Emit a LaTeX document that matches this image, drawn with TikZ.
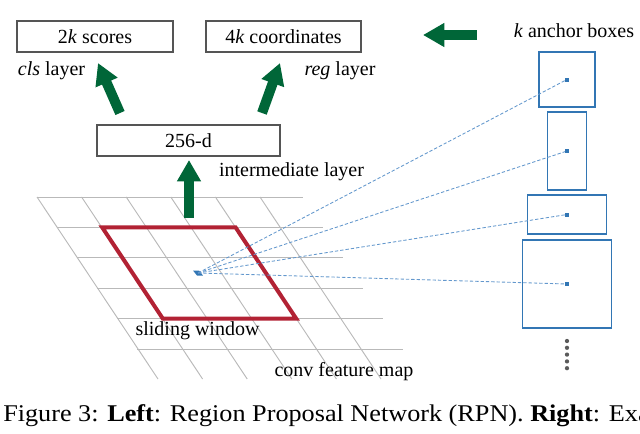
\documentclass[tikz,border=0pt]{standalone}
\usepackage{fontspec}
\setmainfont{Liberation Serif}
\newfontfamily\capfont[FakeStretch=1.092]{Liberation Serif}
\usetikzlibrary{arrows.meta}
\definecolor{boxgray}{RGB}{85,85,85}
\definecolor{gridgray}{RGB}{185,185,185}
\definecolor{winred}{RGB}{178,34,52}
\definecolor{arrgreen}{RGB}{0,102,56}
\definecolor{ancblue}{RGB}{50,118,180}
\definecolor{dashblue}{RGB}{100,152,205}
\definecolor{dotgray}{RGB}{90,90,90}
\begin{document}
\begin{tikzpicture}[x=0.75pt,y=-0.75pt,
    every node/.style={font=\fontsize{15}{18}\selectfont},
    layerbox/.style={draw=boxgray,line width=0.8pt,inner sep=0pt,minimum height=23.25pt},
    gridline/.style={gridgray,line width=0.7pt},
    bigarrow/.style={arrgreen,line width=7.5pt,-{Triangle[width=17pt,length=16pt]}},
    anchorbox/.style={draw=ancblue,line width=1.1pt,inner sep=0pt},
    ray/.style={dashblue,line width=0.65pt,dash pattern=on 2.5pt off 1.5pt}]
    \useasboundingbox (0,0) rectangle (640,433);
    \clip (0,0) rectangle (640,433);
    \foreach \k in {0,...,5}
        \draw [gridline] (37+20*\k,197+30.4*\k) -- (303+20*\k,197+30.4*\k);
    \foreach \j in {0,...,5}
        \draw [gridline] (37+44.6*\j,197) -- (158+44.6*\j,379);
    \draw [winred,line width=3pt] (102.2,227.4) -- (235.6,227.4) -- (296.2,318.6) -- (162.8,318.6) -- cycle;
    \coordinate (c) at (198,273);
    \fill [ancblue] (193,270.5) -- (199,270.5) -- (203,275.5) -- (197,275.5) -- cycle;
    \node [layerbox,minimum width=117pt] (cls) at (95,36.5) {2\textit{k} scores};
    \node [layerbox,minimum width=116.25pt] (reg) at (283.5,36.5) {4\textit{k} coordinates};
    \node [layerbox,minimum width=137.25pt] (mid) at (188.5,140.5) {256-d};
    \node (clslabel) at (51.5,71) {\textit{cls} layer};
    \node (reglabel) at (340,71) {\textit{reg} layer};
    \node (midlabel) at (291.5,172) {intermediate layer};
    \node (winlabel) at (197.5,331) {sliding window};
    \node (maplabel) at (344,372) {conv feature map};
    \node (anclabel) at (574,31) {\textit{k} anchor boxes};
    \coordinate (clsfrom) at (120,113);
    \coordinate (clsto) at (98,63);
    \coordinate (regfrom) at (262,113);
    \coordinate (regto) at (280,63);
    \coordinate (midfrom) at (189,218);
    \coordinate (midto) at (189,160);
    \coordinate (ancfrom) at (477,35);
    \coordinate (ancto) at (423,35);
    \draw [bigarrow] (clsfrom) -- (clsto);
    \draw [bigarrow] (regfrom) -- (regto);
    \draw [bigarrow] (midfrom) -- (midto);
    \draw [bigarrow] (ancfrom) -- (ancto);
    \foreach \n/\cy/\w/\h in {1/79.5/42/41.25,2/151/29.25/58.5,3/214.5/59.25/29.25,4/284/66.75/66}{
        \node [anchorbox,minimum width=\w pt,minimum height=\h pt] (a\n) at (567,\cy) {};
        \draw [ray] (c) -- (a\n.center);
        \fill [ancblue] (a\n.center) +(-2,-2) rectangle +(2,2);
    }
    \foreach \i in {0,...,4}
        \fill [dotgray] (567,341+6.8*\i) circle (1.6pt);
    \node [anchor=base west,inner sep=0pt,font=\capfont\fontsize{18}{20}\selectfont] (caption) at (3,421)
        {Figure 3: \textbf{Left}: Region Proposal Network (RPN). \textbf{Right}: Exa};
\end{tikzpicture}
\end{document}
